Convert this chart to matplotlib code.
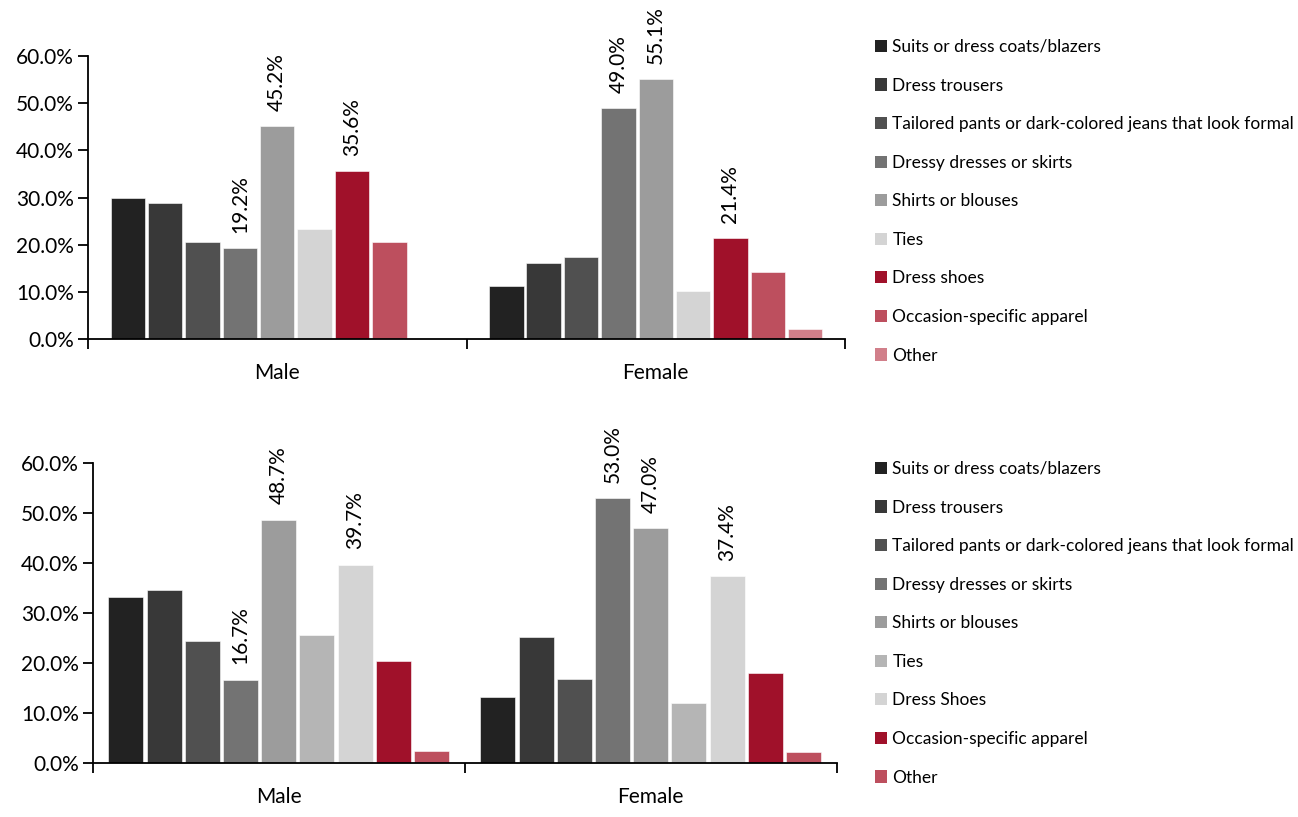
import matplotlib
matplotlib.use("Agg")
import matplotlib.pyplot as plt
from matplotlib.patches import Patch

plt.rcParams['font.family'] = ['Lato', 'DejaVu Sans']

# ---------------- data ----------------
genders = ["Male", "Female"]

top_items = ["Suits or dress coats/blazers", "Dress trousers",
             "Tailored pants or dark-colored jeans that look formal",
             "Dressy dresses or skirts", "Shirts or blouses", "Ties",
             "Dress shoes", "Occasion-specific apparel", "Other"]
top_male = [30.0, 28.8, 20.6, 19.2, 45.2, 23.3, 35.6, 20.6, 0.0]
top_female = [11.2, 16.2, 17.3, 49.0, 55.1, 10.2, 21.4, 14.2, 2.1]
top_colors = ["#222222", "#383838", "#505050", "#737373", "#9c9c9c",
              "#d4d4d4", "#a0112a", "#bd4f5e", "#d17f8a"]

bottom_items = ["Suits or dress coats/blazers", "Dress trousers",
                "Tailored pants or dark-colored jeans that look formal",
                "Dressy dresses or skirts", "Shirts or blouses", "Ties",
                "Dress Shoes", "Occasion-specific apparel", "Other"]
bottom_male = [33.2, 34.6, 24.4, 16.7, 48.7, 25.6, 39.7, 20.4, 2.5]
bottom_female = [13.2, 25.2, 16.8, 53.0, 47.0, 12.0, 37.4, 18.0, 2.3]
bottom_colors = ["#222222", "#383838", "#505050", "#737373", "#9c9c9c",
                 "#b5b5b5", "#d4d4d4", "#a0112a", "#bd4f5e"]

# bars that carry a value label
labelled = [3, 4, 6]

W, H = 1298, 817
fig = plt.figure(figsize=(W / 100, H / 100), dpi=100)


def draw_panel(rect, items, male, female, colors, step, legend_top):
    ax = fig.add_axes(rect)
    n = len(items)
    for i in range(n):
        off = (i - (n - 1) / 2) * step
        vals = [male[i] / 100, female[i] / 100]
        xs = [0 + off, 1 + off]
        ax.bar(xs, vals, width=step * 0.92, color=colors[i],
               edgecolor='white', linewidth=0.4)
        if i in labelled:
            for x, v in zip(xs, vals):
                ax.annotate(f"{v * 100:.1f}%", (x, v), xytext=(0, 11),
                            textcoords='offset points', rotation=90,
                            ha='center', va='bottom', fontsize=15)
    ax.set_xlim(-0.5, 1.5)
    ax.set_ylim(0, 0.6)
    ax.set_yticks([i / 10 for i in range(7)])
    ax.set_yticklabels([f"{i * 10:.1f}%" for i in range(7)], fontsize=15)
    ax.set_xticks([-0.5, 0.5, 1.5])
    ax.set_xticklabels([])
    ax.set_xticks([0, 1], minor=True)
    ax.set_xticklabels(genders, minor=True, fontsize=15)
    ax.tick_params(axis='x', which='minor', length=0, pad=17)
    ax.tick_params(axis='both', which='major', length=7, width=1.3,
                   direction='out')
    ax.tick_params(axis='y', pad=3)
    for s in ['top', 'right']:
        ax.spines[s].set_visible(False)
    for s in ['left', 'bottom']:
        ax.spines[s].set_linewidth(1.3)

    handles = [Patch(facecolor=c, edgecolor='none') for c in colors]
    fig.legend(handles, items, loc='upper left',
               bbox_to_anchor=(875 / W, 1 - legend_top / H),
               frameon=False, fontsize=12.5, handlelength=0.7,
               handleheight=0.7, handletextpad=0.3, labelspacing=1.3,
               borderpad=0, borderaxespad=0)
    return ax


draw_panel([88 / W, 1 - 339 / H, 757 / W, 283 / H], top_items,
           top_male, top_female, top_colors, 0.0987, 39)
draw_panel([92.7 / W, 1 - 763 / H, 744 / W, 299.7 / H], bottom_items,
           bottom_male, bottom_female, bottom_colors, 0.1027, 461)

fig.savefig("out.png", dpi=100)
